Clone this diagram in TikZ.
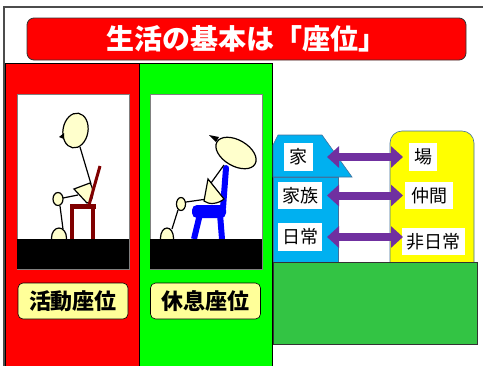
\documentclass[tikz,border=0pt]{standalone}
\usepackage{fontspec}
\newfontfamily\jp{Noto Sans CJK JP}
\usetikzlibrary{arrows.meta}
\definecolor{skin}{HTML}{FFFFCC}
\definecolor{tagyellow}{HTML}{FFFF99}
\definecolor{houseblue}{HTML}{00B0F0}
\definecolor{fieldyellow}{HTML}{FFFF00}
\definecolor{basegreen}{RGB}{51,196,68}
\definecolor{linkpurple}{HTML}{7030A0}
\definecolor{chairred}{HTML}{800000}
\definecolor{chairblue}{HTML}{0000FF}
\definecolor{edgeblue}{HTML}{41719C}
\tikzset{
  fig/.style={draw=black, line width=1.2pt, fill=skin},
  limb/.style={draw=black, line width=1.2pt},
  scenebox/.style={draw=gray, fill=white, line width=0.6pt},
  tagbox/.style={draw=black, fill=tagyellow, rounded corners=5pt, line width=0.6pt,
    minimum width=110pt, minimum height=36pt, inner sep=0pt,
    font=\jp\bfseries\fontsize{22}{24}\selectfont},
  word/.style={fill=white, inner sep=0pt, font=\jp\fontsize{18}{20}\selectfont},
  link/.style={draw=linkpurple, line width=8pt,
    {Triangle[length=12pt,width=21pt]}-{Triangle[length=12pt,width=21pt]}},
}
\begin{document}
\begin{tikzpicture}[x=1pt,y=-1pt]
\useasboundingbox (0,0) rectangle (483,365);

% outer frame
\draw[black!70, line width=1.5pt] (4,366) -- (4,7) -- (484,7);

% title bar
\node[draw=black!80, fill=red, rounded corners=7pt, line width=0.8pt,
  minimum width=439pt, minimum height=42pt, inner sep=0pt,
  text=white, font=\jp\bfseries\fontsize{28}{30}\selectfont] (title) at (246.5,39) {生活の基本は「座位」};

% the two posture panels
\draw[black, line width=0.8pt, fill=red] (5,63) rectangle (139,367);
\draw[black, line width=0.8pt, fill=green] (139,63) rectangle (272,367);

% ---- active sitting ----
\draw[scenebox] (17,94) rectangle (129,269);
\draw[fig] (59,238) ellipse [x radius=7.5, y radius=10];
\draw[limb] (60,206) -- (63,229);
\draw[fig] (58,199) ellipse [x radius=5, y radius=6.5];
\draw[limb] (63,198) -- (78,195);
\draw[limb] (80,147) -- (91,184);
\fill[chairred] (70,204) rectangle (96,209);
\fill[chairred] (70,209) rectangle (74,239);
\fill[chairred] (91,209) rectangle (95,239);
\draw[fig] (74,189) -- (90,183) .. controls (95,190) and (93,203) .. (87,203) -- cycle;
\draw[chairred, line width=3pt] (89,205) -- (100,166);
\draw[fig, rotate around={-10:(75.5,130.5)}] (75.5,130.5) ellipse [x radius=12.5, y radius=17.5];
\fill[black] (64,133) -- (59,137) -- (64,139) -- cycle;
\fill[black] (17,239) rectangle (129,269);
\node[tagbox] (active) at (73,301) {活動座位};

% ---- resting sitting ----
\draw[scenebox] (150,94) rectangle (262,269);
\draw[fig] (167,238) ellipse [x radius=6.5, y radius=10];
\draw[limb] (178,210) -- (172,229);
\draw[fig] (181,204) ellipse [x radius=4.5, y radius=6.5];
\draw[limb] (207,199) -- (186,202);
\draw[chairblue, line width=6pt, line cap=round] (226,168) -- (223,208);
\draw[chairblue, line width=6pt] (200,214) -- (194,239);
\draw[chairblue, line width=6pt] (220,214) -- (222,239);
\fill[chairblue, rounded corners=5pt] (192,205) rectangle (226,218);
\draw[limb] (224,165) -- (211,183);
\draw[fig] (208,179) -- (204,201) .. controls (209,205) and (218,204) .. (224,199) -- cycle;
\draw[fig, rotate around={-30:(236,153)}] (236,153) ellipse [x radius=22, y radius=13];
\fill[black] (209,135) -- (219,137) -- (216,142) -- cycle;
\fill[black] (150,239) rectangle (262,269);
\node[tagbox] (resting) at (205.5,301) {休息座位};

% ---- home versus the outside world ----
\draw[edgeblue, line width=0.6pt, fill=fieldyellow, rounded corners=12pt] (390,131) rectangle (474,275);
\draw[edgeblue, line width=0.6pt, fill=houseblue] (273,177) rectangle (338,262);
\draw[edgeblue, line width=0.6pt, fill=houseblue]
  (273,177) -- (273,145) -- (278,135) -- (322,135) -- (352,177) -- cycle;
\draw[black!80, line width=0.8pt, fill=basegreen] (273,262) rectangle (477,344);

\node[word, minimum width=29pt, minimum height=28pt] (home) at (298.5,157) {家};
\node[word, minimum width=44pt, minimum height=27pt] (family) at (300,195.5) {家族};
\node[word, minimum width=44pt, minimum height=28pt] (daily) at (300,237) {日常};
\node[word, minimum width=28pt, minimum height=28pt] (place) at (423,157) {場};
\node[word, minimum width=48pt, minimum height=27pt] (peers) at (429,195.5) {仲間};
\node[word, minimum width=63pt, minimum height=27pt] (nondaily) at (433.5,241.5) {非日常};

\coordinate (linkL) at (327,0);
\coordinate (linkR) at (403,0);
\draw[link] (home.east -| linkL) -- (home.east -| linkR);
\draw[link] (family.east -| linkL) -- (family.east -| linkR);
\draw[link] (daily.east -| linkL) -- (daily.east -| linkR);
\end{tikzpicture}
\end{document}
